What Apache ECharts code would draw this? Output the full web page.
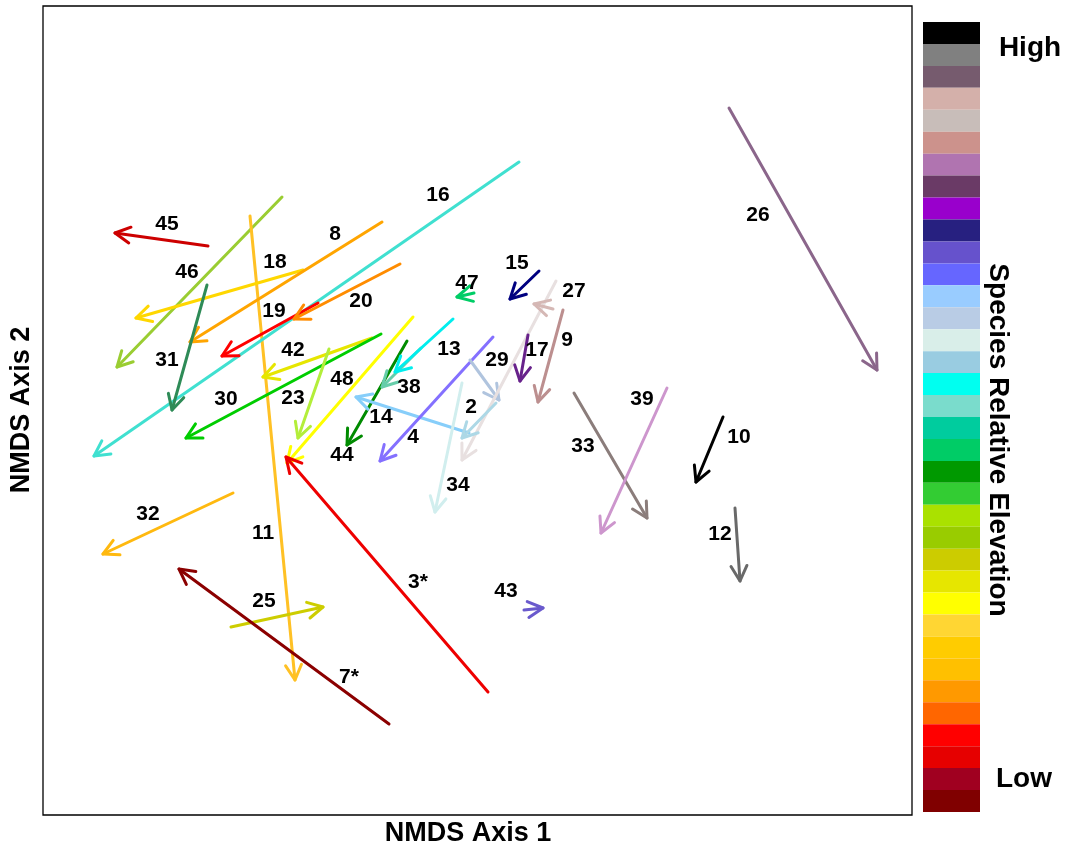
<!DOCTYPE html>
<html><head><meta charset="utf-8">
<script src="https://cdn.jsdelivr.net/npm/echarts/dist/echarts.min.js"></script>
<style>html,body{margin:0;padding:0;background:#fff}#c{width:1068px;height:851px}</style>
</head><body><div id="c"></div>
<script>
// Species shift arrows in NMDS space (tail = earlier, head = later)
const arrowIds = ['45','46','11','18','8','16','19','20','31','42','30','23','48','3*','44','14','38','13','4','29','27b','2','34','47','15','27','9','17','26','33','39','10','12','32','25','7*','43'];
const tailX = [-2.70,-1.96,-2.28,-1.75,-0.96, 0.41,-1.60,-0.78,-2.71,-1.06,-0.97,-1.49,-0.65, 0.10,-0.71,-0.09,-0.57,-0.25, 0.15,-0.08, 0.78, 0.18,-0.16,-0.04, 0.61, 0.75, 0.85, 0.50, 2.51, 0.96, 1.89, 2.45, 2.57,-2.45,-2.47,-0.89, 0.46];
const tailY = [ 1.64, 2.13, 1.94, 1.40, 1.88, 2.48, 1.07, 1.46, 1.25, 0.72, 0.76, 0.61, 0.93,-2.82, 0.69,-0.23, 0.62, 0.91, 0.73, 0.50, 1.29, 0.07, 0.27, 1.17, 1.39, 1.01, 1.00, 0.75, 3.02, 0.17, 0.22,-0.07,-0.98,-0.83,-2.17,-3.14,-2.00];
const headX = [-3.63,-3.61,-1.83,-3.42,-2.88,-3.84,-2.56,-1.84,-3.06,-2.15,-2.92,-1.80,-1.91,-1.92,-1.31,-1.22,-0.96,-0.83,-0.98, 0.21,-0.16,-0.16,-0.43,-0.21, 0.32, 0.56, 0.60, 0.42, 3.99, 1.69, 1.23, 2.18, 2.62,-3.75,-1.55,-2.99, 0.65];
const headY = [ 1.77, 0.43,-2.70, 0.92, 0.68,-0.46, 0.54, 0.91, 0.00, 0.33,-0.28,-0.28,-0.53,-0.47,-0.35, 0.13, 0.23, 0.38,-0.51, 0.10,-0.50,-0.28,-1.02, 1.13, 1.11, 1.06, 0.08, 0.29, 0.40,-1.08,-1.23,-0.72,-1.71,-1.44,-1.97,-1.59,-1.98];
const arrowColors = ['#CD0000','#9ACD32','#FFC125','#FFD700','#FFA500','#40E0D0','#FF0000','#FF8C00','#2E8B57','#E6E600','#00CD00','#B3EE3A','#FFFF00','#EE0000','#008B00','#87CEFA','#66CDAA','#00EEEE','#8470FF','#B0C4DE','#E8E0E0','#ADD8E6','#D1EEEE','#00CD66','#000080','#D5B8B5','#BC8F8F','#68228B','#8B668B','#8B7D7B','#CD96CD','#000000','#696969','#FFB90F','#CDCD00','#8B0000','#6A5ACD'];

// Text labels
const labelText = ['45','46','18','8','16','19','20','47','15','27','9','17','29','13','42','31','48','38','30','23','14','4','2','44','34','26','39','33','10','12','32','11','3*','25','43','7*'];
const labelX = [-3.11,-2.91,-2.03,-1.43,-0.40,-2.04,-1.17,-0.11, 0.39, 0.96, 0.89, 0.59, 0.19,-0.29,-1.85,-3.11,-1.36,-0.69,-2.52,-1.85,-0.97,-0.65,-0.07,-1.36,-0.20, 2.80, 1.64, 1.05, 2.61, 2.42,-3.30,-2.15,-0.60,-2.14, 0.28,-1.29];
const labelY = [ 1.86, 1.38, 1.48, 1.76, 2.15, 0.99, 1.09, 1.27, 1.47, 1.19, 0.70, 0.60, 0.50, 0.61, 0.60, 0.50, 0.31, 0.23, 0.11, 0.12,-0.07,-0.27, 0.03,-0.45,-0.75, 1.95, 0.11,-0.36,-0.27,-1.24,-1.04,-1.23,-1.72,-1.91,-1.81,-2.67];

// Colour key (High at top, Low at bottom)
const keyColors = ['#000000','#808080','#765B6E','#D4B0AA','#C8BDB9','#CC928C','#B074B0','#6A3A66','#9900CC','#272080','#6652CC','#6666FF','#99CCFF','#B9CCE5','#D9EEE9','#99CCE1','#00FFF0','#7ADCCC','#00CC9E','#00CC66','#009900','#33CC33','#AAE100','#99CC00','#CCCC00','#E6E600','#FFFF00','#FFD633','#FFCC00','#FFC000','#FF9900','#FF6600','#FF0000','#E60000','#A00020','#800000'];
const keyLabels = ['High','Low'];
const axisTitles = ['NMDS Axis 1','NMDS Axis 2','Species Relative Elevation'];

const FONT = '"Liberation Sans", Arial, Helvetica, sans-serif';
const chart = echarts.init(document.getElementById('c'), null, {renderer:'canvas'});

const arrowData = arrowIds.map((id, i) => [tailX[i], tailY[i], headX[i], headY[i]]);
const labelData = labelText.map((t, i) => [labelX[i], labelY[i]]);

function renderArrow(params, api) {
  const p0 = api.coord([api.value(0), api.value(1)]);
  const p1 = api.coord([api.value(2), api.value(3)]);
  const ang = Math.atan2(p0[1] - p1[1], p0[0] - p1[0]);
  const L = 17, a = 28 * Math.PI / 180;
  const b1 = [p1[0] + L * Math.cos(ang + a), p1[1] + L * Math.sin(ang + a)];
  const b2 = [p1[0] + L * Math.cos(ang - a), p1[1] + L * Math.sin(ang - a)];
  const color = arrowColors[params.dataIndex];
  return {type:'group', children:[
    {type:'line', shape:{x1:p0[0], y1:p0[1], x2:p1[0], y2:p1[1]}, style:{stroke:color, lineWidth:3, lineCap:'round'}},
    {type:'polyline', shape:{points:[b1, p1, b2]}, style:{stroke:color, lineWidth:3, fill:null, lineCap:'round', lineJoin:'round'}}
  ]};
}
function renderLabel(params, api) {
  const p = api.coord([api.value(0), api.value(1)]);
  return {type:'text', x:p[0], y:p[1], style:{text:labelText[params.dataIndex], fill:'#000', font:'bold 21px ' + FONT, align:'center', verticalAlign:'middle'}};
}

chart.setOption({
  animation:false,
  backgroundColor:'#fff',
  grid:[
    {left:43, top:6, width:869, height:809, show:true, borderColor:'#000', borderWidth:1.3, backgroundColor:'transparent', outerBoundsMode:'none', containLabel:false},
    {left:923, top:22, width:57, height:790, outerBoundsMode:'none', containLabel:false}
  ],
  xAxis:[
    {type:'value', gridIndex:0, min:-4.35, max:4.34, axisLine:{show:false}, axisTick:{show:false}, axisLabel:{show:false}, splitLine:{show:false}},
    {type:'value', gridIndex:1, min:0, max:1, show:false}
  ],
  yAxis:[
    {type:'value', gridIndex:0, min:-4.05, max:4.04, axisLine:{show:false}, axisTick:{show:false}, axisLabel:{show:false}, splitLine:{show:false}},
    {type:'category', gridIndex:1, inverse:true, data:keyColors.map((c, i) => 'k' + i), show:false}
  ],
  series:[
    {type:'custom', xAxisIndex:0, yAxisIndex:0, renderItem:renderArrow, data:arrowData, encode:{x:[0,2], y:[1,3]}, clip:false, silent:true},
    {type:'custom', xAxisIndex:0, yAxisIndex:0, renderItem:renderLabel, data:labelData, encode:{x:0, y:1}, clip:false, silent:true, z:5},
    {type:'bar', xAxisIndex:1, yAxisIndex:1, barWidth:'100%', barCategoryGap:'0%', silent:true,
     data:keyColors.map(c => ({value:1, itemStyle:{color:c}}))}
  ],
  graphic:[
    {type:'text', x:1030, y:48, style:{text:keyLabels[0], font:'bold 28px ' + FONT, fill:'#000', align:'center', verticalAlign:'middle'}},
    {type:'text', x:1024, y:779, style:{text:keyLabels[1], font:'bold 28px ' + FONT, fill:'#000', align:'center', verticalAlign:'middle'}},
    {type:'text', x:998, y:440, rotation:-Math.PI/2, style:{text:axisTitles[2], font:'bold 28px ' + FONT, fill:'#000', align:'center', verticalAlign:'middle'}},
    {type:'text', x:468, y:834, style:{text:axisTitles[0], font:'bold 27px ' + FONT, fill:'#000', align:'center', verticalAlign:'middle'}},
    {type:'text', x:22, y:410, rotation:Math.PI/2, style:{text:axisTitles[1], font:'bold 27px ' + FONT, fill:'#000', align:'center', verticalAlign:'middle'}}
  ]
});
</script></body></html>
